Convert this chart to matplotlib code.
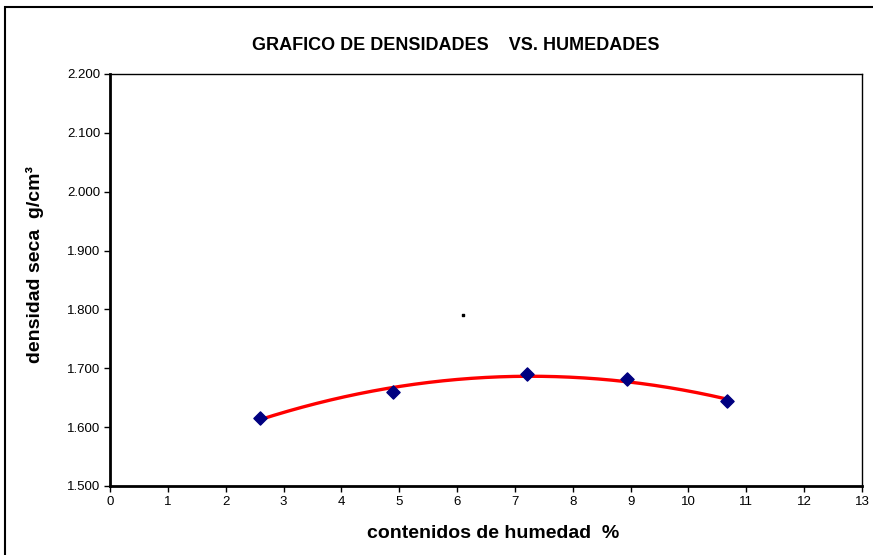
import numpy as np
import matplotlib.pyplot as plt
from matplotlib.patches import Rectangle

# measured points (moisture %, dry density g/cm3)
humedad = [2.59, 4.89, 7.21, 8.94, 10.67]
densidad = [1.616, 1.659, 1.690, 1.682, 1.644]
stray_x = [6.10]
stray_y = [1.790]

x_ticks = list(range(0, 14))
y_ticks = [1.5, 1.6, 1.7, 1.8, 1.9, 2.0, 2.1, 2.2]

plt.rcParams['font.family'] = ['Liberation Sans', 'DejaVu Sans']

fig = plt.figure(figsize=(8.73, 5.55), dpi=100)

# outer chart border
fig.patches.append(Rectangle((5/873, -0.1), 1.1, (555-7)/555 + 0.1,
                             transform=fig.transFigure, fill=False,
                             edgecolor='black', lw=1.5))

ax = fig.add_axes([110/873, 69/555, 752/873, 412/555])

# 2nd order trendline
coef = np.polyfit(humedad, densidad, 2)
xs = np.linspace(min(humedad), max(humedad), 200)
ax.plot(xs, np.polyval(coef, xs), color='red', lw=2.4, zorder=2)

ax.scatter(humedad, densidad, marker='D', s=45, color='#000080', zorder=3)
ax.scatter(stray_x, stray_y, marker='s', s=3, color='black', zorder=3)

ax.set_xlim(0, 13)
ax.set_ylim(1.5, 2.2)
ax.set_xticks(x_ticks)
ax.set_yticks(y_ticks)
ax.set_yticklabels([f"{v:.3f}" for v in y_ticks])
ax.tick_params(direction='out', length=4, width=1, labelsize=9.5, pad=3)

for side in ['top', 'right']:
    ax.spines[side].set_linewidth(1)
for side in ['left', 'bottom']:
    ax.spines[side].set_linewidth(2)

fig.text(456/873, 1 - 45/555, 'GRAFICO DE DENSIDADES    VS. HUMEDADES',
         ha='center', va='center', fontsize=13, fontweight='bold')
fig.text(493/873, 1 - 533/555, 'contenidos de humedad  %',
         ha='center', va='center', fontsize=14, fontweight='bold')
fig.text(35/873, 1 - 265/555, 'densidad seca  g/cm³',
         ha='center', va='center', fontsize=14, fontweight='bold', rotation=90)

fig.savefig('out.png', dpi=100)
